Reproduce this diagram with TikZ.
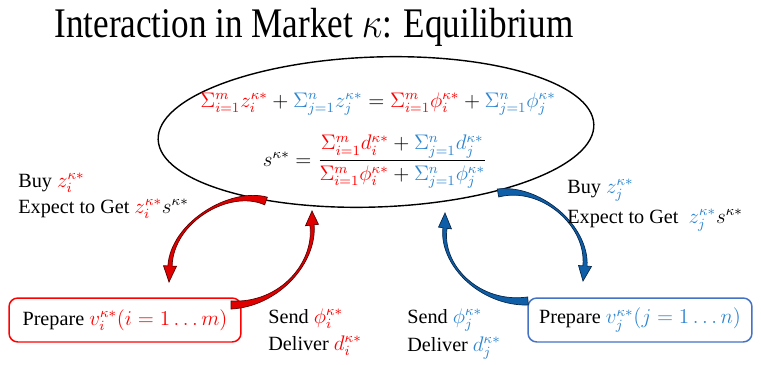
\documentclass[tikz,border=0pt]{standalone}
\usepackage{amsmath}
\usepackage{graphicx}
\usepackage{fontspec}
\setmainfont{Liberation Serif}
\usetikzlibrary{calc, shapes.geometric, positioning}
\definecolor{mred}{HTML}{FF0000}
\definecolor{mblue}{HTML}{2E86D1}
\definecolor{boxblue}{HTML}{4472C4}
\definecolor{redfill}{HTML}{E00000}
\definecolor{rededge}{HTML}{5A0000}
\definecolor{bluefill}{HTML}{0F5FA8}
\definecolor{blueedge}{HTML}{07284D}
\newcommand{\cred}[1]{\textcolor{mred}{#1}}
\newcommand{\cblue}[1]{\textcolor{mblue}{#1}}
\tikzset{
  title/.style={font=\fontsize{20}{24}\selectfont, inner sep=0pt, anchor=base},
  lbl/.style={font=\fontsize{11.5}{14}\selectfont, inner sep=0pt, anchor=base west},
  eqn/.style={font=\fontsize{12}{14}\selectfont, inner sep=0pt},
  market/.style={ellipse, draw=black, line width=0.8pt, minimum width=8.72cm,
                 minimum height=3cm, rotate=2},
  group/.style={rectangle, rounded corners=5pt, line width=0.85pt, fill=white,
                minimum height=0.88cm, font=\fontsize{11.5}{14}\selectfont},
  groupi/.style={group, draw=mred, minimum width=4.64cm},
  groupj/.style={group, draw=boxblue, minimum width=4.48cm},
  redband/.style={fill=redfill, draw=rededge, line width=0.4pt},
  blueband/.style={fill=bluefill, draw=blueedge, line width=0.4pt},
}
% band widths of the curved arrows
\def\tailw{2.3pt}
\def\midw{0.7pt}
\def\headw{1.2pt}
\def\barbw{3.7pt}
% #1 style, #2 start, #3 #4 controls, #5 end of band, #6 tip
\newcommand{\bandarrow}[6]{%
  \path[#1] ($(#2)!\tailw!90:(#3)$)
    .. controls ($(#3)!\midw!-90:(#2)$) and ($(#4)!\midw!90:(#5)$) .. ($(#5)!\headw!-90:(#4)$)
    -- ($(#5)!\barbw!-90:(#4)$) -- (#6) -- ($(#5)!\barbw!90:(#4)$)
    -- ($(#5)!\headw!90:(#4)$)
    .. controls ($(#4)!\midw!-90:(#5)$) and ($(#3)!\midw!90:(#2)$) .. ($(#2)!\tailw!-90:(#3)$)
    -- cycle;}

\begin{document}
\begin{tikzpicture}[x=0.02cm, y=-0.02cm]
\useasboundingbox (0,0) rectangle (761,365);

% Title
\node[title] (head) at (314,37) {\scalebox{1}[1.2]{Interaction in Market $\kappa$: Equilibrium}};

% The market and its clearing conditions
\node[market] (market) at (376,132) {};
\node[eqn] (balance) at (378,104)
  {$\cred{\Sigma_{i=1}^{m} z_i^{\kappa*}} + \cblue{\Sigma_{j=1}^{n} z_j^{\kappa*}}
    = \cred{\Sigma_{i=1}^{m} \phi_i^{\kappa*}} + \cblue{\Sigma_{j=1}^{n} \phi_j^{\kappa*}}$};
\node[eqn] (price) at (375,162)
  {$s^{\kappa*} = \dfrac{\cred{\Sigma_{i=1}^{m} d_i^{\kappa*}} + \cblue{\Sigma_{j=1}^{n} d_j^{\kappa*}}}
                      {\cred{\Sigma_{i=1}^{m} \phi_i^{\kappa*}} + \cblue{\Sigma_{j=1}^{n} \phi_j^{\kappa*}}}$};

% The two groups of agents
\node[groupi] (agentsi) at (125,320) {Prepare $\cred{v_i^{\kappa*}(i = 1 \ldots m)}$};
\node[groupj] (agentsj) at (640,320) {Prepare $\cblue{v_j^{\kappa*}(j = 1 \ldots n)}$};

% Ends of the curved arrows
\coordinate (buyi-out) at (266,201);  \coordinate (buyi-in) at (169,282);
\coordinate (sendi-out) at (231,305); \coordinate (sendi-in) at (312,211);
\coordinate (buyj-out) at (498,193);  \coordinate (buyj-in) at (583,281);
\coordinate (sendj-out) at (528,301); \coordinate (sendj-in) at (445,213);

% Market -> agents (buy), agents -> market (send)
\bandarrow{redband}{buyi-out}{230,188}{172,222}{170,266}{buyi-in}
\bandarrow{redband}{sendi-out}{280,305}{316,262}{312,225}{sendi-in}
\bandarrow{blueband}{buyj-out}{540,185}{588,225}{585,266}{buyj-in}
\bandarrow{blueband}{sendj-out}{480,305}{440,265}{445,228}{sendj-in}

% Labels
\node[lbl] (buyi) at (18,187) {Buy $\cred{z_i^{\kappa*}}$};
\node[lbl] (geti) at (18,213) {Expect to Get $\cred{z_i^{\kappa*}}s^{\kappa*}$};
\node[lbl] (sendi) at (268,323) {Send $\cred{\phi_i^{\kappa*}}$};
\node[lbl] (deliveri) at (268,350) {Deliver $\cred{d_i^{\kappa*}}$};
\node[lbl] (buyj) at (567,193) {Buy $\cblue{z_j^{\kappa*}}$};
\node[lbl] (getj) at (567,223) {Expect to Get\ \ $\cblue{z_j^{\kappa*}}s^{\kappa*}$};
\node[lbl] (sendj) at (407,323) {Send $\cblue{\phi_j^{\kappa*}}$};
\node[lbl] (deliverj) at (407,351) {Deliver $\cblue{d_j^{\kappa*}}$};

\end{tikzpicture}
\end{document}
